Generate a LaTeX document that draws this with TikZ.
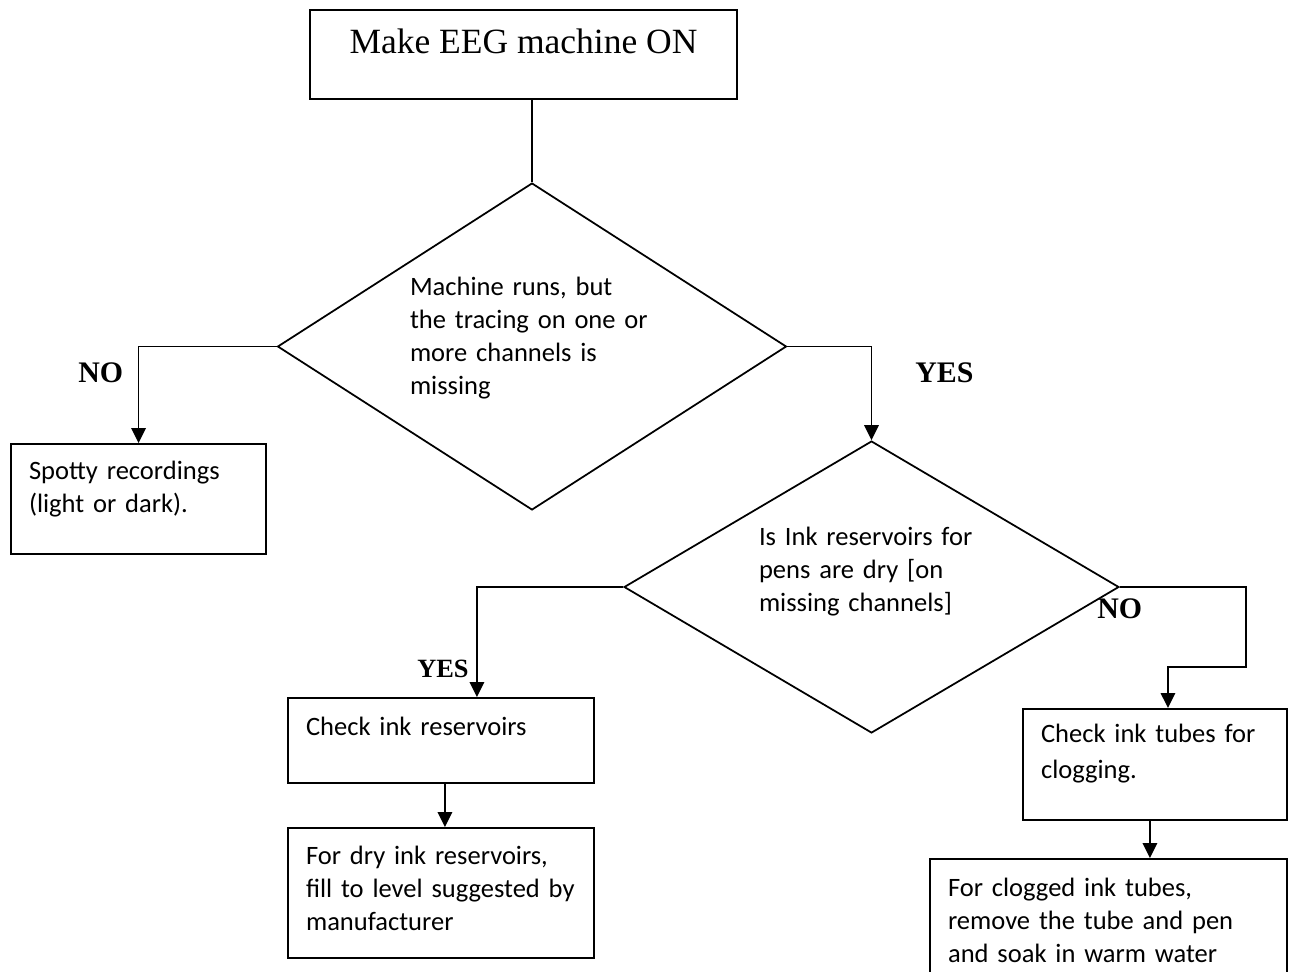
\documentclass[tikz,border=0pt]{standalone}
\usepackage{fontspec}
\setmainfont{Carlito}
\newfontfamily\serifrm{Liberation Serif}
\usepackage{tikz}
\usetikzlibrary{arrows.meta,calc,shapes.geometric}

\begin{document}
\begin{tikzpicture}[x=0.02cm,y=-0.02cm,line cap=butt,line join=miter,
  >={Triangle[length=0.3cm,width=0.29cm]},
  every node/.append style={font=\fontsize{15.1pt}{18.8pt}\selectfont},
  box/.style={draw,line width=1.2pt,rectangle,anchor=north west,align=left,
    inner xsep=0.36cm,inner ysep=0pt},
  decision/.style={draw,line width=1pt,diamond,inner sep=0pt,align=left},
  answer/.style={anchor=base west,inner sep=0pt,
    font=\serifrm\bfseries\fontsize{17pt}{20pt}\selectfont},
  link/.style={line width=1pt}]

\useasboundingbox (0,0) rectangle (1294,971);
\clip (0,0) rectangle (1294,971);

% =============================== nodes ================================
\node[box,anchor=north,align=center,inner xsep=0pt,minimum width=8.54cm,
  text height=0.86cm,text depth=0.92cm,
  font=\serifrm\fontsize{20.2pt}{24pt}\selectfont] (eegon) at (523.5,9)
  {Make EEG machine ON};

\node[decision,aspect=1.557,minimum width=10.18cm,minimum height=6.54cm,
  text width=4.88cm,text height=0.4cm,text depth=2.46cm] (tracing) at (532,346.5)
  {Machine runs, but\\the tracing on one or\\more channels is\\missing};

\node[decision,aspect=1.695,minimum width=9.9cm,minimum height=5.84cm,
  text width=4.5cm,text height=0.4cm,text depth=2.08cm] (inkdry) at (871.5,587)
  {Is Ink reservoirs for\\pens are dry [on\\missing channels]};

\node[box,text width=4.38cm,text height=0.70cm,text depth=1.50cm] (spotty) at (10,443)
  {Spotty recordings\\(light or dark).};
\node[box,text width=5.4cm,text height=0.74cm,text depth=0.96cm] (checkres) at (287,697)
  {Check ink reservoirs};
\node[box,text width=5.4cm,text height=0.72cm,text depth=1.88cm] (fillres) at (287,827)
  {For dry ink reservoirs,\\fill to level suggested by\\manufacturer};
\node[box,text width=4.56cm,text height=0.66cm,text depth=1.56cm,
  font=\fontsize{15.1pt}{21pt}\selectfont] (checktube) at (1022,708)
  {Check ink tubes for\\clogging.};
\node[box,text width=6.42cm,text height=0.74cm,text depth=2.1cm] (soaktube) at (929,858)
  {For clogged ink tubes,\\remove the tube and pen\\and soak in warm water};

% ============================== answers ===============================
\node[answer] (no1)  at (78,382)   {NO};
\node[answer] (yes1) at (915,382)  {YES};
\node[answer,font=\serifrm\bfseries\fontsize{15pt}{18pt}\selectfont] (yes2) at (417,677) {YES};
\node[answer] (no2)  at (1097,618) {NO};

\coordinate (bendno) at (1246,667);

% ============================= connectors =============================
\draw[link] (tracing.north |- eegon.south) -- (tracing.north);
\draw[link,->] (tracing.west) -| (spotty.north);
\draw[link,->] (tracing.east) -| (inkdry.north);
\draw[link,->] (inkdry.west) -| ([xshift=3.8cm]checkres.north west);
\draw[link,->] ([xshift=3.16cm]checkres.south west) -- ([xshift=3.16cm]fillres.north west);
\draw[link,->] (inkdry.east) -| (bendno) -| ([xshift=2.92cm]checktube.north west);
\draw[link,->] ([xshift=2.56cm]checktube.south west) -- ([xshift=4.42cm]soaktube.north west);

\end{tikzpicture}
\end{document}
